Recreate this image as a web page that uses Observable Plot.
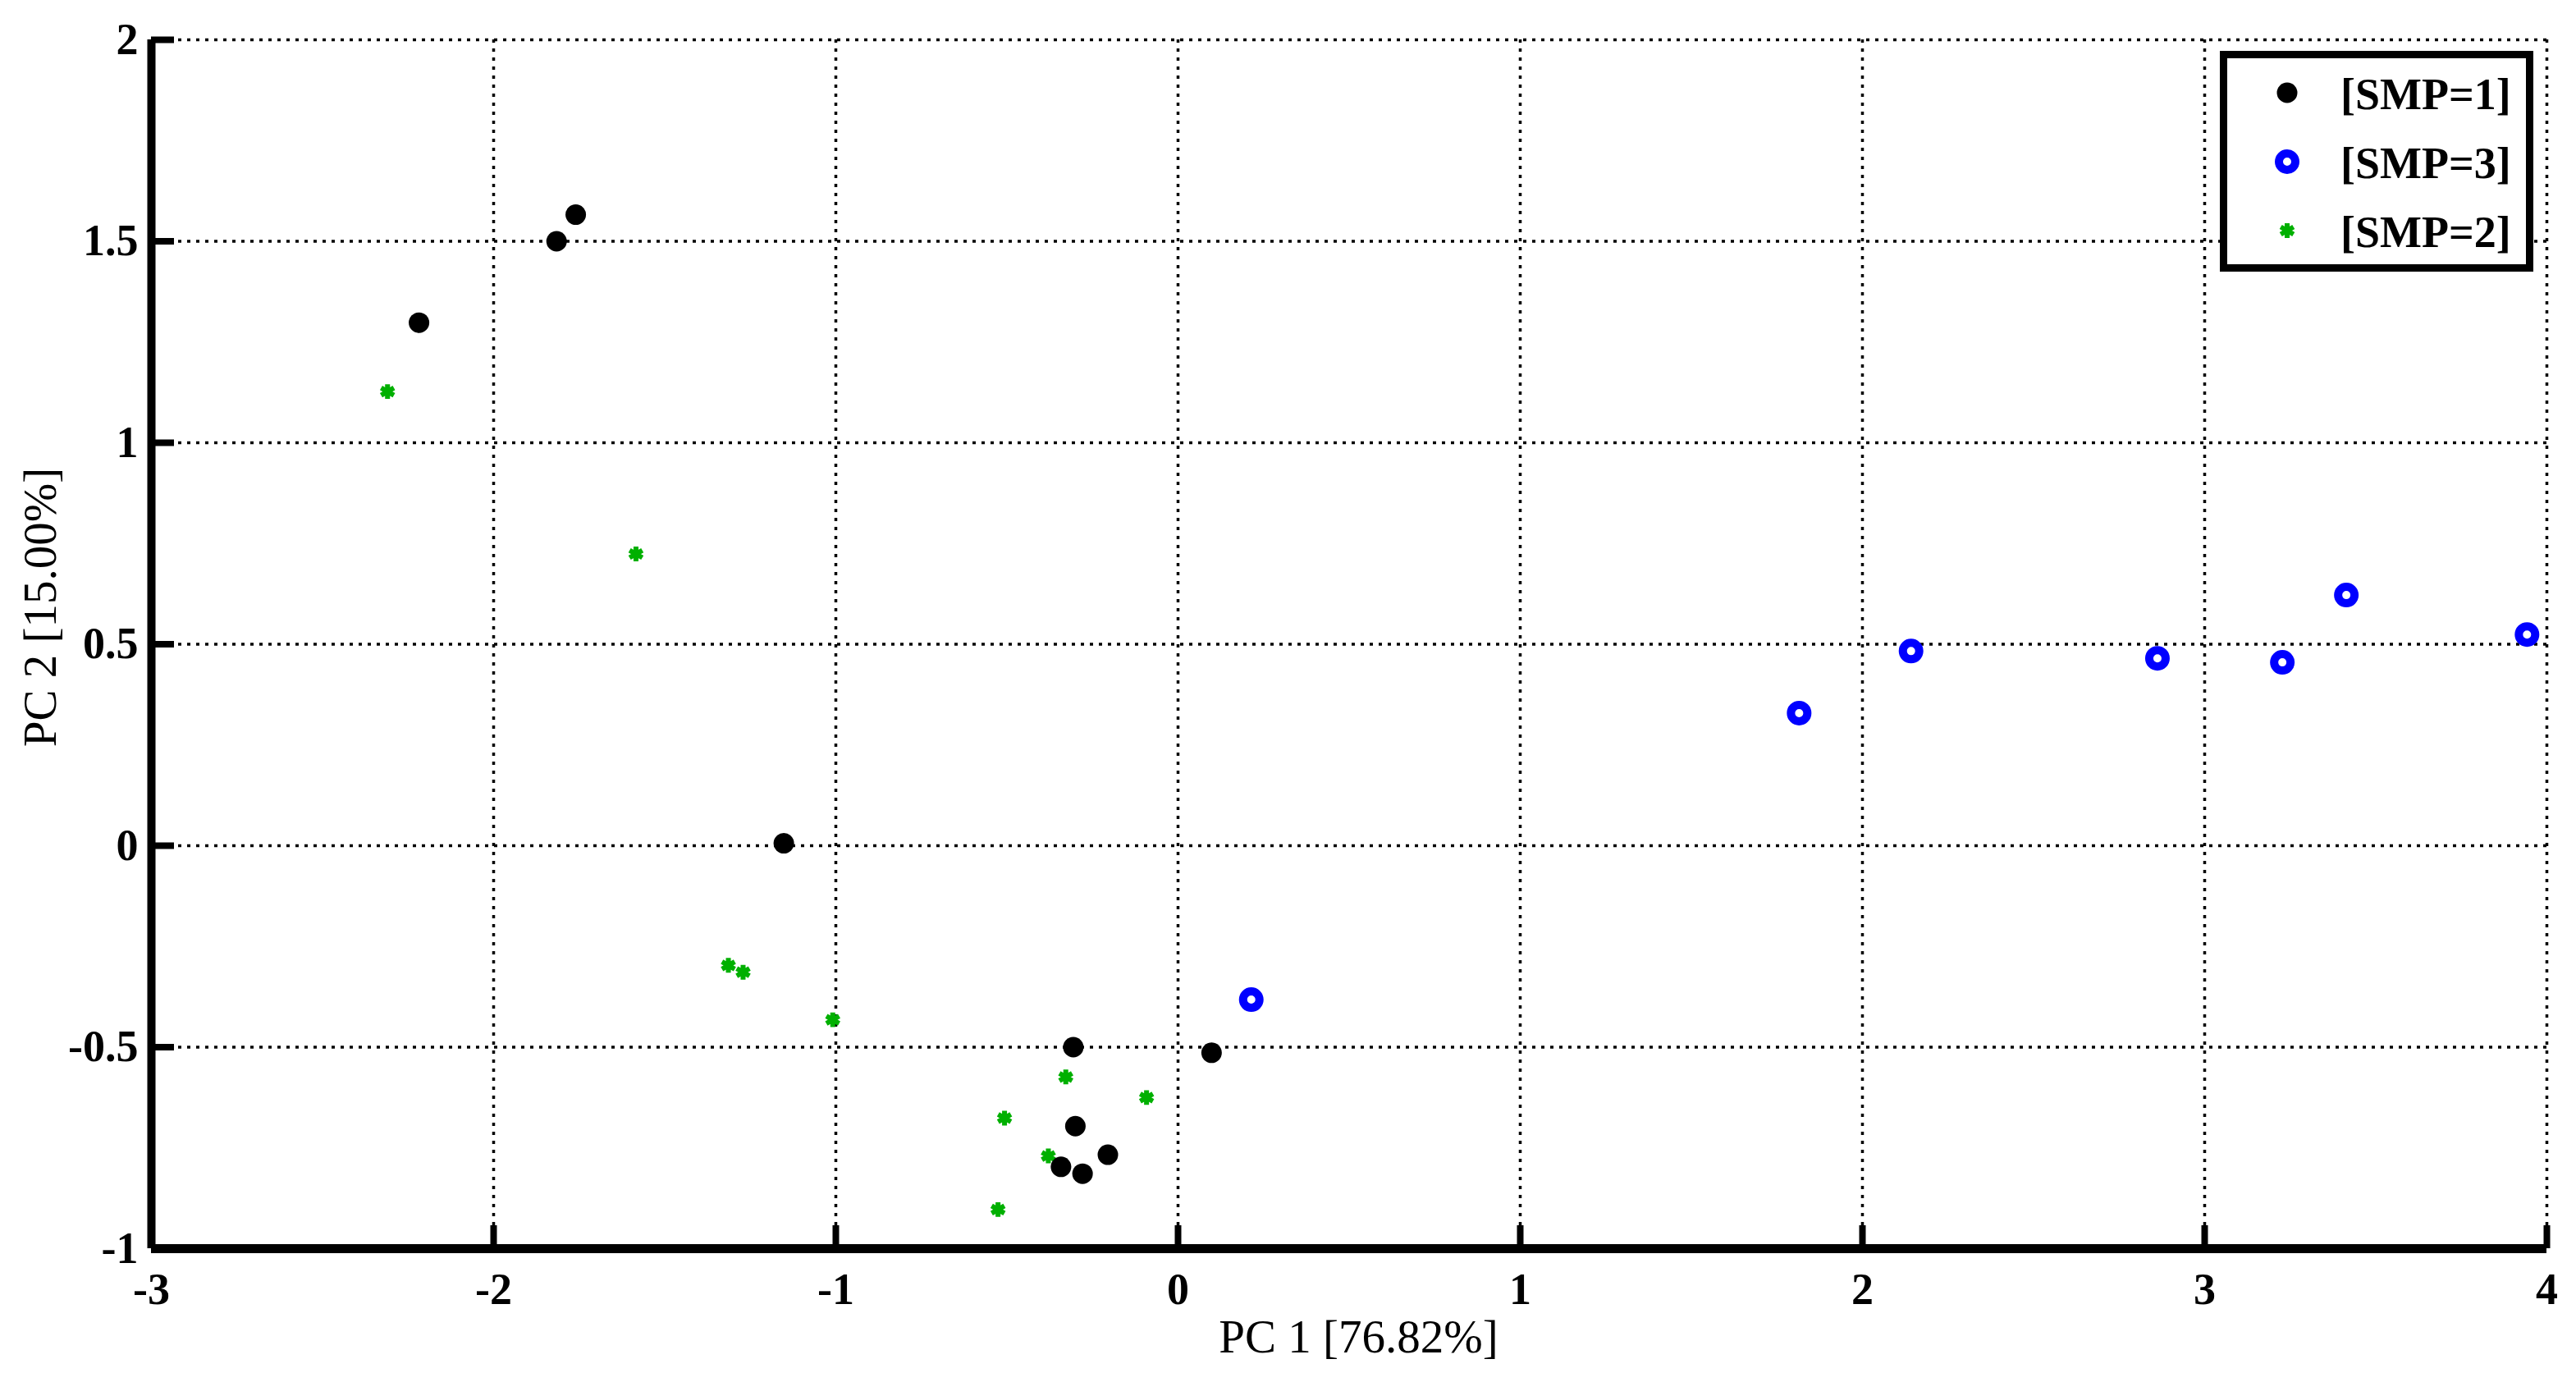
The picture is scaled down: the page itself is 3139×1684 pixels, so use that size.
<!DOCTYPE html>
<html><head><meta charset="utf-8">
<script src="https://cdn.jsdelivr.net/npm/d3@7"></script>
<script src="https://cdn.jsdelivr.net/npm/@observablehq/plot@0.6"></script>
<style>html,body{margin:0;padding:0;background:#fff;} #chart{width:3139px;height:1684px;}</style>
</head><body><div id="chart"></div>
<script>
// ---- data ----
const seriesNames = ["[SMP=1]", "[SMP=3]", "[SMP=2]"];
const smp1X = [-2.218, -1.816, -1.760, -1.152, -0.306, -0.300, -0.342, -0.279, -0.205, 0.098];
const smp1Y = [1.298, 1.500, 1.566, 0.006, -0.500, -0.696, -0.797, -0.814, -0.767, -0.514];
const smp3X = [0.214, 1.815, 2.142, 2.862, 3.227, 3.414, 3.942];
const smp3Y = [-0.382, 0.329, 0.483, 0.465, 0.455, 0.622, 0.524];
const smp2X = [-2.310, -1.584, -1.314, -1.271, -1.009, -0.328, -0.092, -0.507, -0.379, -0.526];
const smp2Y = [1.127, 0.724, -0.297, -0.314, -0.432, -0.574, -0.625, -0.676, -0.770, -0.903];
const xTicks = [-3, -2, -1, 0, 1, 2, 3, 4];
const yTicks = [-1, -0.5, 0, 0.5, 1, 1.5, 2];
const xLabel = "PC 1 [76.82%]";
const yLabel = "PC 2 [15.00%]";
const colors = {smp1: "#000000", smp3: "#0000ff", smp2: "#00b000"};

// ---- layout ----
const W = 3139, H = 1684, mL = 184, mR = 36, mT = 48, mB = 163;
const frameW = W - mL - mR, frameH = H - mT - mB;
const rows = (xs, ys, s) => xs.map((x, i) => ({x, y: ys[i], s}));
const d1 = rows(smp1X, smp1Y, seriesNames[0]);
const d3s = rows(smp3X, smp3Y, seriesNames[1]);
const d2 = rows(smp2X, smp2Y, seriesNames[2]);
const fmt = d => String(d);
const gridStyle = {stroke: "black", strokeOpacity: 1, strokeWidth: 3.5, strokeDasharray: "4 7"};
const astR = 8.5, astW = 6;

const plot = Plot.plot({
  width: W, height: H,
  marginLeft: mL, marginRight: mR, marginTop: mT, marginBottom: mB,
  x: {domain: [-3, 4]},
  y: {domain: [-1, 2]},
  style: {fontFamily: "'Liberation Serif', 'Times New Roman', serif", background: "white", color: "black", overflow: "visible"},
  marks: [
    Plot.gridX(xTicks.slice(1), gridStyle),
    Plot.gridY(yTicks.slice(1), gridStyle),
    Plot.ruleX([xTicks[0]], {strokeWidth: 10}),
    Plot.ruleY([yTicks[0]], {strokeWidth: 11}),
    Plot.tickX(xTicks, {x: d => d, strokeWidth: 8, insetTop: frameH - 28}),
    Plot.tickY(yTicks, {y: d => d, strokeWidth: 8, insetRight: frameW - 28}),
    Plot.axisX(xTicks, {tickSize: 0, tickPadding: 29, tickFormat: fmt, fontSize: 54, fontWeight: "bold", label: null}),
    Plot.axisY(yTicks, {tickSize: 0, tickPadding: 16, tickFormat: fmt, fontSize: 54, fontWeight: "bold", label: null}),
    Plot.dot(d2, {x: "x", y: "y", symbol: "asterisk", r: astR, stroke: colors.smp2, strokeWidth: astW}),
    Plot.dot(d1, {x: "x", y: "y", r: 12.5, fill: colors.smp1, stroke: "none"}),
    Plot.dot(d3s, {x: "x", y: "y", r: 10, stroke: colors.smp3, strokeWidth: 10, fill: "white"})
  ]
});
document.getElementById("chart").appendChild(plot);

// ---- axis titles ----
const svg = d3.select(plot);
const font = "'Liberation Serif', 'Times New Roman', serif";
svg.append("text").text(xLabel)
  .attr("x", mL + frameW / 2 + 12).attr("y", 1648)
  .attr("text-anchor", "middle").attr("font-family", font).attr("font-size", 57).attr("fill", "black");
svg.append("text").text(yLabel)
  .attr("transform", `translate(68,740) rotate(-90)`)
  .attr("text-anchor", "middle").attr("font-family", font).attr("font-size", 57).attr("fill", "black");

// ---- legend ----
const lg = svg.append("g");
lg.append("rect").attr("x", 2709.5).attr("y", 66.5).attr("width", 373).attr("height", 260)
  .attr("fill", "white").attr("stroke", "black").attr("stroke-width", 9);
const entries = [
  {name: seriesNames[0], kind: "dot"},
  {name: seriesNames[1], kind: "ring"},
  {name: seriesNames[2], kind: "ast"}
];
entries.forEach((e, i) => {
  const by = 133 + i * 84;
  const my = by - 20;
  if (e.kind === "dot") {
    lg.append("circle").attr("cx", 2787).attr("cy", my).attr("r", 12.5).attr("fill", colors.smp1);
  } else if (e.kind === "ring") {
    lg.append("circle").attr("cx", 2787).attr("cy", my).attr("r", 10).attr("fill", "white")
      .attr("stroke", colors.smp3).attr("stroke-width", 10);
  } else {
    lg.append("path").attr("transform", `translate(2787,${my})`)
      .attr("d", d3.symbol(d3.symbolAsterisk, Math.PI * astR * astR)())
      .attr("fill", "none").attr("stroke", colors.smp2).attr("stroke-width", astW);
  }
  lg.append("text").text(e.name).attr("x", 2852).attr("y", by)
    .attr("text-anchor", "start")
    .attr("font-family", font).attr("font-size", 54).attr("font-weight", "bold").attr("fill", "black");
});
</script>
</body></html>
